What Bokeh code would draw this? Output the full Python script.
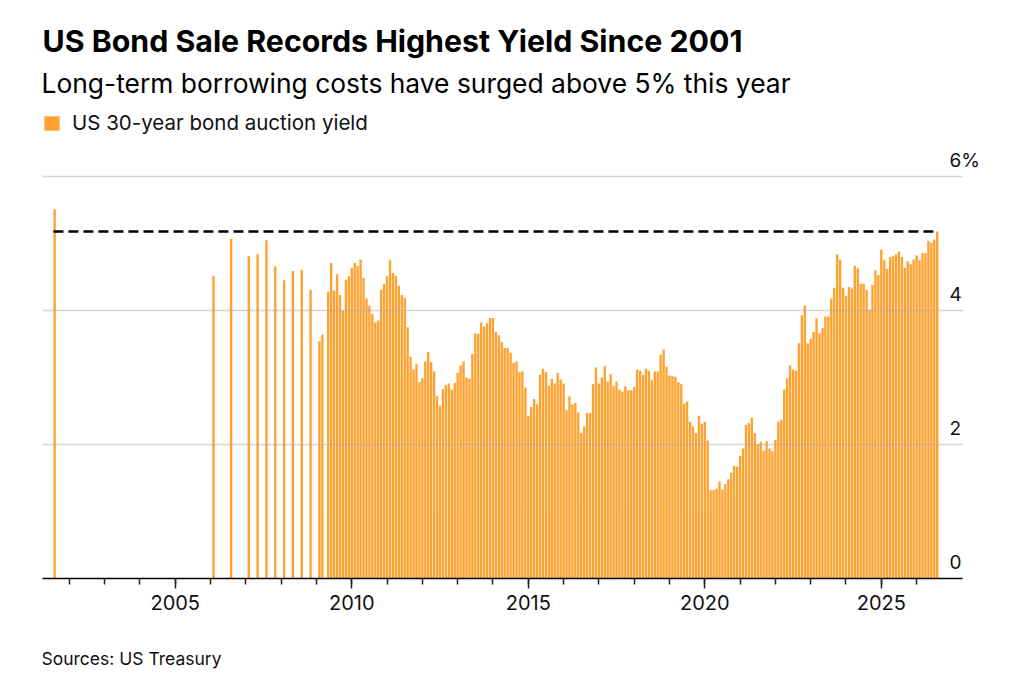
import pandas as pd
from bokeh.plotting import figure
from bokeh.layouts import column
from bokeh.models import (ColumnDataSource, FixedTicker, Label, Legend, LegendItem,
                          Range1d, Grid, LinearAxis)
from bokeh.embed import file_html
from bokeh.resources import INLINE

# auctions before the 30-year went monthly (Aug 2001, then reintroduced 2006)
early_months = ['2001-08', '2006-02', '2006-08', '2007-02', '2007-05', '2007-08',
                '2007-11', '2008-02', '2008-05', '2008-08', '2008-11', '2009-02', '2009-03']
early_yields = [5.51, 4.52, 5.07, 4.81, 4.84, 5.05, 4.66, 4.45, 4.59, 4.61, 4.31, 3.54, 3.64]

# monthly auctions from May 2009
monthly_start = '2009-05'
monthly_yields = [
    4.28, 4.71, 4.30, 4.54, 4.23, 4.00, 4.46, 4.51,                      # 2009
    4.64, 4.71, 4.67, 4.76, 4.49, 4.18, 4.07, 3.95, 3.82, 3.85, 4.31, 4.40,  # 2010
    4.51, 4.75, 4.56, 4.52, 4.37, 4.23, 4.19, 3.75, 3.31, 3.12, 3.20, 2.93,  # 2011
    2.99, 3.24, 3.38, 3.23, 3.09, 2.72, 2.58, 2.83, 2.89, 2.91, 2.82, 2.92,  # 2012
    3.07, 3.18, 3.24, 3.00, 2.98, 3.35, 3.66, 3.65, 3.82, 3.76, 3.81, 3.89,  # 2013
    3.89, 3.68, 3.63, 3.53, 3.44, 3.44, 3.37, 3.22, 3.24, 3.08, 3.09, 2.85,  # 2014
    2.43, 2.56, 2.68, 2.60, 3.04, 3.13, 3.08, 2.88, 2.98, 2.91, 3.07, 2.97,  # 2015
    2.91, 2.51, 2.72, 2.60, 2.62, 2.48, 2.17, 2.27, 2.47, 2.47, 2.90, 3.15,  # 2016
    2.91, 3.00, 3.17, 2.94, 3.05, 2.87, 2.94, 2.82, 2.79, 2.87, 2.81, 2.81,  # 2017
    2.86, 3.12, 3.10, 3.04, 3.13, 3.10, 2.96, 3.09, 3.09, 3.34, 3.42, 3.16,  # 2018
    3.03, 3.02, 3.01, 2.93, 2.90, 2.61, 2.64, 2.34, 2.27, 2.17, 2.43, 2.31,  # 2019
    2.34, 2.06, 1.32, 1.32, 1.34, 1.45, 1.33, 1.41, 1.48, 1.58, 1.68, 1.67,  # 2020
    1.83, 1.94, 2.29, 2.32, 2.40, 2.17, 2.00, 2.04, 1.91, 2.05, 1.94, 1.90,  # 2021
    2.07, 2.34, 2.37, 2.82, 2.99, 3.18, 3.12, 3.10, 3.51, 3.93, 4.07, 3.51,  # 2022
    3.58, 3.68, 3.88, 3.66, 3.74, 3.91, 3.91, 4.18, 4.34, 4.84, 4.76, 4.34,  # 2023
    4.22, 4.35, 4.33, 4.67, 4.63, 4.40, 4.40, 4.31, 4.01, 4.38, 4.60, 4.53,  # 2024
    4.91, 4.75, 4.62, 4.80, 4.81, 4.84, 4.88, 4.80, 4.64, 4.73, 4.69, 4.76,  # 2025
    4.82, 4.75, 4.86, 4.86, 5.04, 5.01, 5.06, 5.18,                      # 2026
]

year_ticks = [2005, 2010, 2015, 2020, 2025]
year_minor = list(range(2002, 2027))
y_ticks = [0, 2, 4, 6]
y_tick_labels = {6: '6%'}

title_text = 'US Bond Sale Records Highest Yield Since 2001'
subtitle_text = 'Long-term borrowing costs have surged above 5% this year'
legend_text = 'US 30-year bond auction yield'
source_text = 'Sources: US Treasury'

ORANGE = '#FFA12E'
FONT = 'Inter'
W = 1030
LEFT, RIGHT = 42, W - 962
HEAD_H = 104
FRAME_H = 474

months = pd.PeriodIndex(early_months, freq='M').append(
    pd.period_range(monthly_start, periods=len(monthly_yields), freq='M'))
x = list(months.year + (months.month - 1) / 12.0)
yields = early_yields + monthly_yields
src = ColumnDataSource(dict(x=x, y=yields))
bar_w = 0.8 / 12

xr = Range1d(2001.24, 2027.30)


def text_strip(height):
    # plain strip sharing the chart's x mapping, used for header and footer text
    f = figure(width=W, height=height, x_range=xr, y_range=Range1d(0, height),
               output_backend="svg", toolbar_location=None,
               x_axis_location=None, y_axis_location=None,
               min_border_left=LEFT, min_border_right=RIGHT, min_border_top=0, min_border_bottom=0)
    f.outline_line_color = None
    f.grid.visible = False
    return f


head = text_strip(HEAD_H)
head.add_layout(Label(x=xr.start, y=64, text=title_text, text_font=FONT, text_font_style='bold',
                      text_font_size='30.3px', text_color='#000000', text_baseline='alphabetic'))
head.add_layout(Label(x=xr.start, y=22, x_offset=-1, text=subtitle_text, text_font=FONT,
                      text_font_size='26.4px', text_color='#000000', text_baseline='alphabetic'))

# main chart
y_end = 7.075
p = figure(width=W, height=FRAME_H + 52, x_range=xr, y_range=Range1d(0, y_end),
           output_backend="svg", toolbar_location=None, y_axis_location=None,
           min_border_left=LEFT, min_border_right=RIGHT, min_border_top=0, min_border_bottom=52)
p.outline_line_color = None
p.xgrid.visible = False
p.ygrid.visible = False
p.add_layout(Grid(dimension=1, ticker=FixedTicker(ticks=y_ticks[1:]), level='overlay',
                  grid_line_color='#aaaaaa', grid_line_alpha=0.5, grid_line_width=1.3))

bars = p.vbar(x='x', top='y', width=bar_w, source=src, fill_color=ORANGE, line_color=None)
p.segment(x0=[x[0] - bar_w / 2], y0=[yields[-1]], x1=[x[-1] + bar_w / 2], y1=[yields[-1]],
          line_color='black', line_width=2.5, line_dash='10 5')

ax = p.xaxis[0]
ax.ticker = FixedTicker(ticks=year_ticks, minor_ticks=year_minor)
ax.axis_line_color = 'black'
ax.axis_line_width = 1.5
ax.major_tick_in = 0
ax.major_tick_out = 10
ax.major_tick_line_color = '#222222'
ax.major_tick_line_width = 1.5
ax.minor_tick_in = 0
ax.minor_tick_out = 6
ax.minor_tick_line_color = '#222222'
ax.minor_tick_line_width = 1.5
ax.major_label_text_font = FONT
ax.major_label_text_font_size = '20px'
ax.major_label_text_color = '#111111'
ax.major_label_standoff = 6

# value labels sit just above their gridlines, so the right axis uses a range shifted by 16px
shift = 16 * y_end / FRAME_H
p.extra_y_ranges = {'labels': Range1d(-shift, y_end - shift)}
yax = LinearAxis(y_range_name='labels', ticker=FixedTicker(ticks=y_ticks),
                 major_label_overrides=y_tick_labels, axis_line_color=None,
                 major_tick_line_color=None, minor_tick_line_color=None,
                 major_tick_out=0, major_tick_in=0, minor_tick_out=0, minor_tick_in=0,
                 major_label_standoff=-13, major_label_text_font=FONT,
                 major_label_text_font_size='19px', major_label_text_color='#111111')
p.add_layout(yax, 'right')

legend = Legend(items=[LegendItem(label=legend_text, renderers=[bars])],
                location=(0, 443), margin=0, padding=0, spacing=0,
                border_line_color=None, background_fill_alpha=0,
                glyph_width=19, glyph_height=18, label_standoff=11,
                label_text_font=FONT, label_text_font_size='20.5px', label_text_color='#111111')
p.add_layout(legend)

foot = text_strip(60)
foot.add_layout(Label(x=xr.start, y=32, x_offset=-1, text=source_text, text_font=FONT,
                      text_font_size='17.5px', text_color='#111111', text_baseline='alphabetic'))

page = column(head, p, foot, spacing=0)
open("out.html", "w").write(file_html(page, INLINE))
